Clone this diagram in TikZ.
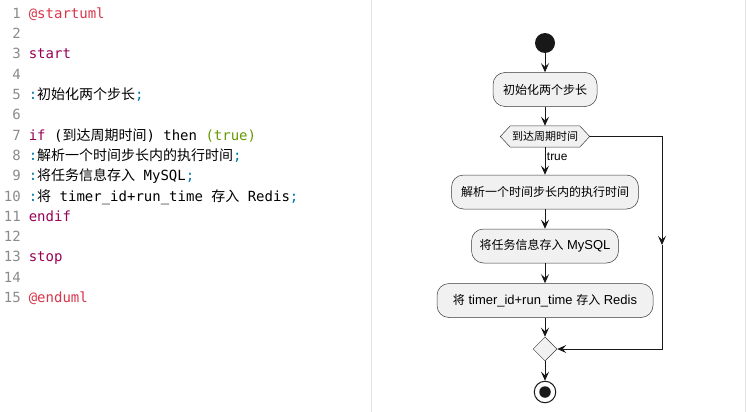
\documentclass[tikz,border=0pt]{standalone}
\usepackage{fontspec}
\setmonofont{DejaVu Sans Mono}
\newfontfamily\cjk{Noto Sans CJK SC}
\newfontfamily\dsans[Scale=1.08]{Liberation Sans}
\usetikzlibrary{arrows.meta,shapes.geometric,backgrounds}

\definecolor{kwcol}{HTML}{990055}
\definecolor{atcol}{HTML}{D8344A}
\definecolor{strcol}{HTML}{669900}
\definecolor{puncol}{HTML}{0077AA}
\definecolor{numcol}{HTML}{8A8A8A}
\definecolor{sepcol}{HTML}{E2E2E2}
\definecolor{boxfill}{HTML}{F1F1F1}
\definecolor{boxline}{HTML}{3A3A3A}
\definecolor{linecol}{HTML}{181818}

\newcommand{\zh}[1]{{\cjk #1}}
\newcommand{\pu}[1]{\textcolor{puncol}{#1}}

\begin{document}
\begin{tikzpicture}[x=1pt, y=-1pt,
    codetext/.style={anchor=base west, inner sep=0pt, font=\ttfamily\fontsize{14}{16}\selectfont},
    numtext/.style={anchor=base east, inner sep=0pt, text=numcol, font=\ttfamily\fontsize{14}{16}\selectfont},
    actbox/.style={draw=boxline, line width=0.5pt, fill=boxfill, rounded corners=12pt, minimum height=34pt, inner sep=0pt, font=\dsans\fontsize{12}{14}\selectfont},
    flow/.style={draw=linecol, line width=0.9pt, -{Stealth[length=9pt,width=8pt,inset=3.5pt]}}]
    \def\lineH{20.3}
    \def\firstBase{18.3}
    \def\colX{545}
    \def\loopX{662}
    \useasboundingbox (0,0) rectangle (747,412);
    % panel borders
    \draw[sepcol, line width=1pt] (371.5,0) -- (371.5,412);
    \draw[sepcol, line width=1pt] (745.5,0) -- (745.5,412);
    % line numbers
    \foreach \i in {1,...,15} {
        \node[numtext] (n\i) at (21, {\firstBase+(\i-1)*\lineH}) {\i};
    }
    % code lines
    \foreach \i/\txt in {
        1/{\textcolor{atcol}{@startuml}},
        3/{\textcolor{kwcol}{start}},
        5/{\pu{:}\zh{初始化两个步长}\pu{;}},
        7/{\textcolor{kwcol}{if} (\zh{到达周期时间}) then \textcolor{strcol}{(true)}},
        8/{\pu{:}\zh{解析一个时间步长内的执行时间}\pu{;}},
        9/{\pu{:}\zh{将任务信息存入} MySQL\pu{;}},
        10/{\pu{:}\zh{将} timer\_id+run\_time \zh{存入} Redis\pu{;}},
        11/{\textcolor{kwcol}{endif}},
        13/{\textcolor{kwcol}{stop}},
        15/{\textcolor{atcol}{@enduml}}} {
        \node[codetext] (l\i) at (28.6, {\firstBase+(\i-1)*\lineH}) {\txt};
    }
    % activity diagram
    \node[circle, fill=linecol, minimum size=20pt, inner sep=0pt] (start) at (\colX,43) {};
    \node[actbox, minimum width=104pt] (init) at (\colX,89.5) {\zh{初始化两个步长}};
    \node[minimum width=89pt, minimum height=21pt, inner sep=0pt, font=\dsans\fontsize{11}{13}\selectfont] (cond) at (\colX,136.5) {\zh{到达周期时间}};
    \begin{pgfonlayer}{background}
        \draw[boxline, line width=0.5pt, fill=boxfill] (cond.west) -- ([xshift=10]cond.north west) -- ([xshift=-10]cond.north east) -- (cond.east) -- ([xshift=-10]cond.south east) -- ([xshift=10]cond.south west) -- cycle;
    \end{pgfonlayer}
    \node[actbox, minimum width=187pt] (parse) at (\colX,192) {\zh{解析一个时间步长内的执行时间}};
    \node[actbox, minimum width=147pt] (mysql) at (\colX,246) {\zh{将任务信息存入} MySQL};
    \node[actbox, minimum width=216pt] (redis) at (\colX,300.5) {\zh{将} timer\_id+run\_time \zh{存入} Redis};
    \node[diamond, draw=boxline, line width=0.5pt, fill=boxfill, minimum width=24pt, minimum height=24pt, inner sep=0pt] (merge) at (\colX,349) {};
    \node[circle, draw=linecol, line width=1pt, fill=white, minimum size=21.5pt, inner sep=0pt] (stop) at (\colX,392) {};
    \node[circle, fill=linecol, minimum size=11.5pt, inner sep=0pt] (stopdot) at (stop) {};
    \coordinate (loopdown) at (\loopX,245);
    % connectors
    \draw[flow] (start) -- (init);
    \draw[flow] (init) -- (cond);
    \draw[flow] (cond) -- node[pos=0.35, right, inner sep=1.5pt, font=\dsans\fontsize{11}{13}\selectfont] (truelbl) {true} (parse);
    \draw[flow] (parse) -- (mysql);
    \draw[flow] (mysql) -- (redis);
    \draw[flow] (redis) -- (merge);
    \draw[flow] (merge) -- (stop);
    \draw[flow] (cond.east) -| (loopdown);
    \draw[flow] (loopdown) |- (merge.east);
\end{tikzpicture}
\end{document}
